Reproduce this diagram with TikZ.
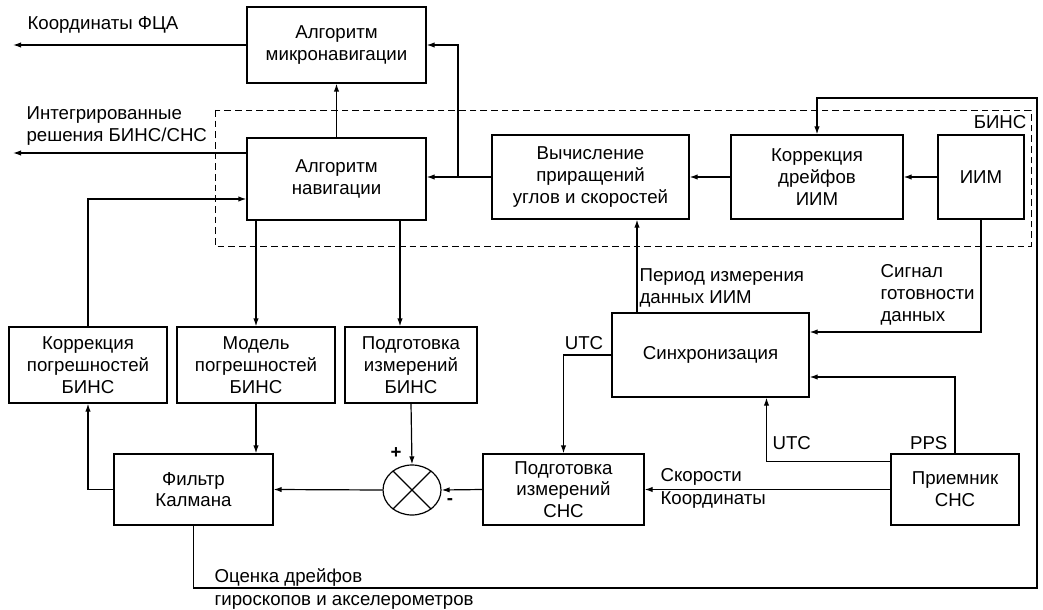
\documentclass[tikz,border=0pt]{standalone}
\usepackage{fontspec}
\setmainfont{Liberation Sans}
\usepackage{tikz}
\usetikzlibrary{arrows.meta, shapes.geometric, calc}

\begin{document}
\begin{tikzpicture}[x=0.75pt, y=-0.75pt, line width=0.9pt, >={Latex[length=6pt,width=4pt]},
        font=\fontsize{14}{16.3}\selectfont,
        blok/.style 2 args={draw, rectangle, align=center, inner sep=0pt,
            minimum width=#1*0.75pt, minimum height=#2*0.75pt},
        metka/.style={inner sep=0pt, align=left}]
        \useasboundingbox (0,0) rectangle (1043,610);

        % Граница БИНС
        \draw[dash pattern=on 5pt off 3pt, line width=0.7pt] (215,110) rectangle (1031,246);
        \node[metka, anchor=east] (bins) at (1027,122) {БИНС};

        % Блоки
        \node[blok={179}{76}] (micro) at (336.5,45) {Алгоритм\\микронавигации};
        \node[blok={179}{82}] (nav) at (336.5,179) {Алгоритм\\навигации};
        \node[blok={197}{84}] (vych) at (590.5,177) {Вычисление\\приращений\\углов и скоростей};
        \node[blok={172}{84}] (korr) at (817,177) {Коррекция\\дрейфов\\ИИМ};
        \node[blok={86}{84}] (iim) at (981,177) {ИИМ};
        \node[blok={158}{76}] (korrpog) at (88,365) {Коррекция\\погрешностей\\БИНС};
        \node[blok={158}{76}] (model) at (256,365) {Модель\\погрешностей\\БИНС};
        \node[blok={132}{76}] (podgB) at (411,365) {Подготовка\\измерений\\БИНС};
        \node[blok={197}{84}] (sync) at (710.5,355) {Синхронизация};
        \node[blok={159}{71}] (kalman) at (193.5,489.5) {Фильтр\\Калмана};
        \node[draw, ellipse, inner sep=0pt, minimum width=58*0.75pt, minimum height=50*0.75pt] (sum) at (412,490) {};
        \node[blok={161}{71}] (podgS) at (563.5,489.5) {Подготовка\\измерений\\СНС};
        \node[blok={128}{71}] (prm) at (955,489.5) {Приемник\\СНС};
        \draw (sum.45) -- (sum.225) (sum.135) -- (sum.315);

        % Выходы
        \coordinate (out1) at (13,45);
        \coordinate (out2) at (13,153);
        \draw[->] (micro.west) -- (out1);
        \draw[->] (nav.west |- out2) -- (out2);
        \node[metka, anchor=west] (fca) at (27,25) {Координаты ФЦА};
        \node[metka, anchor=west] (integr) at (26,126) {Интегрированные\\решения БИНС/СНС};

        % Верхний ряд
        \draw[->] (iim.west) -- (korr.east);
        \draw[->] (korr.west) -- (vych.east);
        \coordinate (br) at (458,177);
        \draw[->] (vych.west) -- (vych.west -| nav.east);
        \draw[->] (br) |- (micro.east);
        \draw[->] (nav.north) -- (micro.south);

        % Навигация -> модель и подготовка
        \draw[->] (nav.south -| model.north) -- (model.north);
        \draw[->] (nav.south -| 400,0) -- (podgB.north -| 400,0);
        \draw[->] (korrpog.north) |- ($(nav.west)+(0,20)$);

        % Фильтр Калмана
        \draw[->] (model.south) -- (kalman.north -| model.south);
        \draw[->] (podgB.south) -- (sum.north);
        \draw[->] (sum.west) -- (kalman.east);
        \draw[->] (podgS.west) -- (sum.east);
        \draw[->] (kalman.west) -| (korrpog.south);
        \node[metka] (plus) at (396,453) {\textbf{+}};
        \node[metka] (minus) at (450,502) {\textbf{-}};

        % СНС
        \draw[->] (prm.west) -- (podgS.east);
        \node[metka, anchor=west] (skor) at (660,477) {Скорости};
        \node[metka, anchor=west] (koord) at (660,500) {Координаты};
        \draw[->] (sync.west) -| (podgS.north);
        \node[metka] (utc1) at (584,343) {UTC};
        \draw[->] ($(prm.north west)+(0,8)$) -| ($(sync.south)+(56,0)$);
        \node[metka, anchor=west] (utc2) at (772,443) {UTC};
        \draw[->] (prm.north) |- ($(sync.east)+(0,22)$);
        \node[metka, anchor=east] (pps) at (948,443) {PPS};
        \draw[->] (iim.south) |- ($(sync.east)+(0,-23)$);
        \node[metka, anchor=west] (signal) at (880,295) {Сигнал\\готовности\\данных};
        \draw[->] (sync.north -| 637,0) -- (vych.south -| 637,0);
        \node[metka, anchor=west] (period) at (639,288) {Период измерения\\данных ИИМ};

        % Оценка дрейфов
        \coordinate (loop) at (1037,588);
        \draw[->] (kalman.south) |- (loop) |- (korr.north |- 0,98) -- (korr.north);
        \node[metka, anchor=west] (ocenka) at (214,578) {Оценка дрейфов};
        \node[metka, anchor=west] (giro) at (214,602) {гироскопов и акселерометров};
    \end{tikzpicture}
\end{document}
